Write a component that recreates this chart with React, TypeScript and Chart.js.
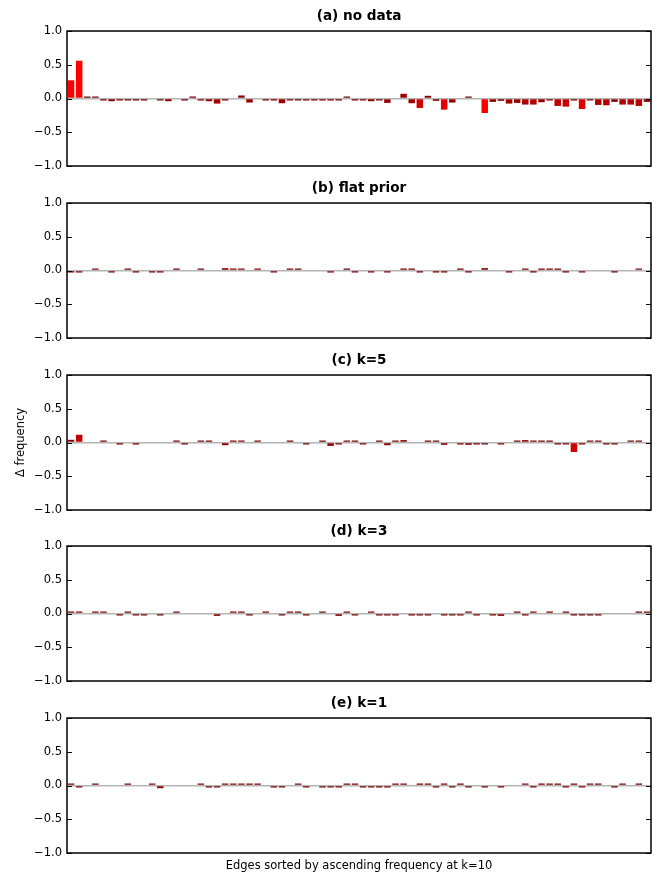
import React, { useEffect, useRef } from 'react';
import { Chart, registerables } from 'chart.js';
Chart.register(...registerables);

// Categories: 72 edges, sorted by ascending frequency at k=10
const edgeLabels: string[] = [];
for (let i = 1; i <= 72; i++) edgeLabels.push('e' + i);

const panelTitles = ['(a) no data', '(b) flat prior', '(c) k=5', '(d) k=3', '(e) k=1'];
const yTicks = [-1, -0.5, 0, 0.5, 1];

const noData = [
  0.27, 0.56, 0.005, 0.01, -0.01, -0.04, -0.015, -0.01, -0.01, -0.005,
  0, -0.005, -0.04, 0, -0.005, 0.005, -0.03, -0.04, -0.075, -0.015,
  0, 0.045, -0.06, 0, -0.015, -0.03, -0.07, -0.02, -0.015, -0.03,
  -0.02, -0.03, -0.03, -0.03, 0.01, -0.01, -0.015, -0.04, -0.005, -0.065,
  0, 0.07, -0.07, -0.14, 0.04, -0.035, -0.165, -0.06, 0, 0.005,
  0, -0.215, -0.05, -0.035, -0.075, -0.065, -0.09, -0.09, -0.055, -0.03,
  -0.11, -0.12, -0.01, -0.155, -0.02, -0.095, -0.1, -0.05, -0.09, -0.09,
  -0.11, -0.05,
];

const flatPrior = [
  -0.005, -0.03, 0, 0.01, 0, -0.015, 0, 0.01, -0.01, 0,
  -0.02, -0.025, 0, 0.01, 0, 0, 0.005, 0, 0, 0.035,
  0.02, 0.02, 0, 0.015, 0, -0.005, 0, 0.03, 0.005, 0,
  0, 0, -0.03, 0, 0.005, -0.025, 0, -0.025, 0, -0.025,
  0, 0.03, 0.005, -0.005, 0, -0.005, -0.02, 0, 0.005, -0.01,
  0, 0.035, 0, 0, -0.02, 0, 0.01, -0.005, 0.015, 0.01,
  0.01, -0.005, 0, -0.025, 0, 0, 0, -0.01, 0, 0,
  0.02, 0,
];

const k5 = [
  0.04, 0.115, 0, 0, 0.003, 0, -0.01, 0, -0.005, 0,
  0, 0, 0, 0.01, -0.01, 0, 0.005, 0.003, 0, -0.04,
  0.02, 0.025, 0, 0.01, 0, 0, 0, 0.01, 0, -0.01,
  0, 0.003, -0.05, -0.02, 0.03, 0.01, -0.02, 0, 0.01, -0.04,
  0.02, 0.035, 0, 0, 0.01, 0.01, -0.035, 0, -0.03, -0.035,
  -0.005, -0.003, 0, -0.01, 0, 0.005, 0.035, 0.025, 0.005, 0.005,
  -0.01, -0.01, -0.14, -0.03, 0.025, 0.01, -0.003, -0.01, 0, 0.005,
  0.003, 0,
];

const k3 = [
  0.01, 0.02, 0, 0.01, 0.02, 0, -0.01, 0.01, -0.015, -0.015,
  0, -0.005, 0, 0.01, 0, 0, 0, 0, -0.035, 0,
  0.03, 0.03, -0.01, 0, 0.015, 0, -0.005, 0.015, 0.005, -0.005,
  0, 0.005, 0, -0.035, 0.01, -0.005, 0, 0.02, -0.01, -0.01,
  -0.01, 0, -0.01, -0.01, -0.005, 0, -0.01, -0.015, -0.015, 0.015,
  -0.01, 0, -0.005, -0.035, 0, 0.005, -0.015, 0.03, 0, 0.03,
  0, 0.005, -0.01, -0.005, -0.005, -0.005, 0, 0, 0, 0,
  0.01, 0.01,
];

const k1 = [
  0.005, -0.025, 0, 0.01, 0, 0, 0, 0.01, 0, 0,
  0.02, -0.04, 0, 0, 0, 0, 0.015, -0.01, -0.01, 0.015,
  0.025, 0.015, 0.005, 0.005, 0, -0.01, -0.015, 0, 0.015, -0.015,
  0, -0.01, -0.02, -0.015, 0.005, 0.005, -0.015, -0.005, -0.005, -0.015,
  0.025, 0.025, 0, 0.003, 0.01, -0.005, 0.03, -0.01, 0.005, -0.015,
  0, -0.015, 0, -0.015, 0, 0, 0.015, -0.01, 0.03, 0.01,
  0.005, -0.015, 0.02, -0.03, 0.015, 0.02, 0, -0.005, 0.005, 0,
  0.03, 0,
];

const panelValues = [noData, flatPrior, k5, k3, k1];
const panelTops = [0, 172, 344, 515, 687];

const FONT = "'DejaVu Sans', sans-serif";

function barColor(v: number): string {
  if (v === 0) return 'rgba(0,0,0,0)';
  const r = Math.round(255 * Math.min(1, 0.42 + 2.9 * Math.abs(v)));
  return `rgb(${r},0,0)`;
}

function fmtTick(v: number): string {
  const s = Math.abs(v).toFixed(1);
  return v < 0 ? '\u2212' + s : s;
}

const framePlugin = {
  id: 'frame',
  afterDraw(chart: any) {
    const { ctx, chartArea } = chart;
    const ys = chart.scales.y;
    ctx.save();
    ctx.strokeStyle = '#000';
    ctx.lineWidth = 1;
    for (const t of yTicks) {
      const y = Math.round(ys.getPixelForValue(t)) + 0.5;
      ctx.beginPath();
      ctx.moveTo(chartArea.left, y);
      ctx.lineTo(chartArea.left + 5, y);
      ctx.moveTo(chartArea.right, y);
      ctx.lineTo(chartArea.right - 5, y);
      ctx.stroke();
    }
    ctx.lineWidth = 1.5;
    ctx.strokeRect(chartArea.left, chartArea.top, chartArea.right - chartArea.left, chartArea.bottom - chartArea.top);
    ctx.restore();
  },
};

function Panel({ title, values, top, showYTitle }: { title: string; values: number[]; top: number; showYTitle: boolean }) {
  const ref = useRef<HTMLCanvasElement>(null);
  useEffect(() => {
    const chart = new Chart(ref.current as HTMLCanvasElement, {
      type: 'bar',
      data: {
        labels: edgeLabels,
        datasets: [
          {
            data: values,
            backgroundColor: values.map(barColor),
            borderWidth: 0,
            barPercentage: 0.8,
            categoryPercentage: 1,
            minBarLength: 2,
          },
        ],
      },
      options: {
        responsive: false,
        animation: false,
        devicePixelRatio: 1,
        layout: { padding: { left: 0, right: 13, top: 0, bottom: 20 } },
        plugins: {
          legend: { display: false },
          tooltip: { enabled: false },
          title: {
            display: true,
            fullSize: false,
            text: title,
            color: '#000',
            font: { family: FONT, size: 13.6, weight: 'bold' },
            padding: { top: 8, bottom: 6.7 },
          },
        },
        scales: {
          x: { display: false, offset: true },
          y: {
            min: -1,
            max: 1,
            afterBuildTicks: (s: any) => {
              s.ticks = yTicks.map((v) => ({ value: v }));
            },
            afterFit: (s: any) => {
              s.width = 67;
            },
            border: { display: false },
            grid: {
              drawTicks: false,
              lineWidth: 1.5,
              color: (c: any) => (c.tick && c.tick.value === 0 ? '#b4b4b4' : 'rgba(0,0,0,0)'),
            },
            ticks: {
              padding: 5,
              color: '#000',
              font: { family: FONT, size: 11.5 },
              callback: (v: any) => fmtTick(Number(v)),
            },
            title: {
              display: showYTitle,
              text: '\u0394 frequency',
              color: '#000',
              font: { family: FONT, size: 11.5 },
              padding: { top: 14, bottom: 0 },
            },
          },
        },
      } as any,
      plugins: [framePlugin],
    });
    return () => chart.destroy();
  }, []);
  return (
    <canvas
      ref={ref}
      width={664}
      height={186}
      style={{ position: 'absolute', left: 0, top, width: 664, height: 186 }}
    />
  );
}

export default function App() {
  return (
    <div style={{ position: 'absolute', left: 0, top: 0, width: 664, height: 886, background: '#fff', overflow: 'hidden' }}>
      {panelTitles.map((t, i) => (
        <Panel key={t} title={t} values={panelValues[i]} top={panelTops[i]} showYTitle={i === 2} />
      ))}
      <div
        style={{
          position: 'absolute',
          left: 67,
          width: 584,
          top: 858,
          textAlign: 'center',
          fontFamily: FONT,
          fontSize: 11.5,
          lineHeight: '14px',
          color: '#000',
        }}
      >
        Edges sorted by ascending frequency at k=10
      </div>
    </div>
  );
}
